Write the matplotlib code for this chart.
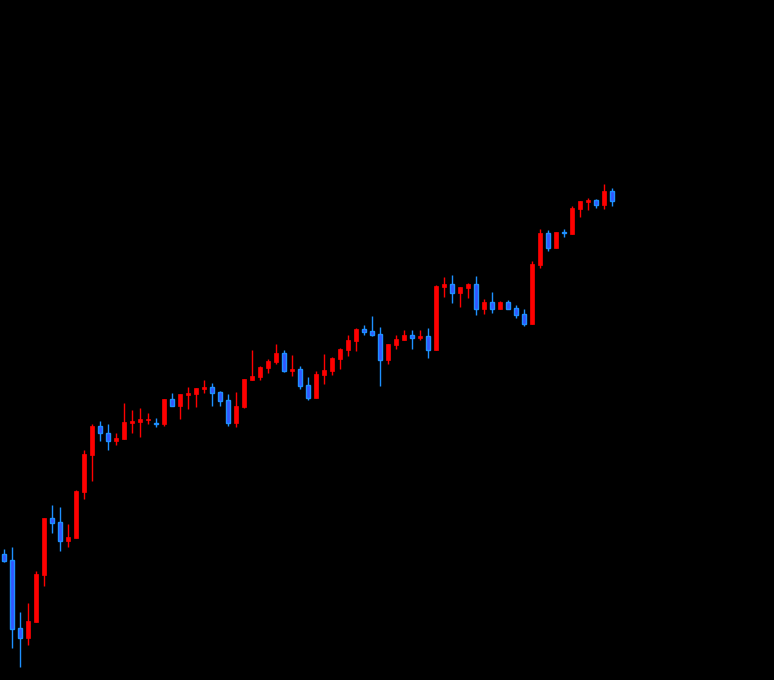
import matplotlib
matplotlib.use("Agg")
import matplotlib.pyplot as plt
import numpy as np

opens = [126, 120, 52, 42, 58, 105, 162, 158, 139, 142, 188, 225, 254, 247, 239, 241, 257, 258, 260, 257,
         256, 281, 274, 285, 286, 291, 293, 288, 280, 257, 273, 300, 303, 312, 318, 327, 309, 311, 295, 282,
         305, 309, 321, 330, 339, 351, 349, 346, 320, 335, 340, 345, 342, 344, 330, 393, 396, 387, 392, 396,
         371, 378, 371, 378, 372, 366, 356, 415, 447, 432, 448, 446, 471, 478, 480, 475, 489]
highs = [131, 133, 68, 77, 109, 162, 175, 173, 156, 190, 230, 256, 259, 256, 247, 277, 270, 272, 267, 262,
         281, 287, 286, 293, 292, 300, 297, 289, 286, 288, 301, 330, 314, 321, 336, 330, 325, 314, 303, 309,
         326, 323, 332, 345, 352, 355, 364, 353, 336, 345, 350, 350, 350, 352, 395, 403, 405, 393, 397, 404,
         381, 388, 379, 380, 375, 371, 419, 451, 450, 448, 451, 474, 479, 482, 481, 496, 492]
lows = [118, 32, 13, 35, 58, 94, 147, 129, 133, 142, 181, 199, 239, 230, 235, 241, 247, 243, 256, 253,
        254, 274, 261, 271, 273, 287, 274, 274, 254, 253, 272, 300, 300, 307, 316, 308, 304, 291, 280, 282,
        296, 305, 311, 324, 329, 345, 344, 294, 316, 331, 340, 331, 340, 322, 330, 383, 377, 373, 382, 365,
        366, 367, 371, 371, 362, 354, 356, 412, 429, 432, 443, 446, 463, 470, 472, 471, 474]
closes = [119, 51, 42, 59, 106, 162, 157, 139, 143, 189, 226, 254, 247, 239, 242, 258, 259, 261, 261, 256.5,
          281, 274, 286, 287, 292, 293, 287, 279, 257, 274, 301, 304, 313, 319, 327, 309, 311, 294, 282, 306,
          310, 322, 331, 340, 351, 348, 345, 320, 336, 341, 345, 342, 344, 330, 394, 396, 387, 393, 396, 371,
          378, 371, 378, 371, 365, 356, 416, 447, 432, 448, 447, 472, 479, 480, 475, 489, 479]

o = np.array(opens, float)
h = np.array(highs, float)
l = np.array(lows, float)
c = np.array(closes, float)
x = np.arange(len(o))
up = c >= o

RED = "#ff0000"
BLUE_EDGE = "#1e90ff"
BLUE_FILL = "#3355ff"

fig = plt.figure(figsize=(7.74, 6.8), dpi=100, facecolor="black")
ax = fig.add_axes([0, 0, 1, 1])
ax.set_facecolor("black")

wick_colors = [RED if u else BLUE_EDGE for u in up]
ax.vlines(x, l, h, colors=wick_colors, linewidth=1.0, zorder=1)

body_h = np.abs(c - o)
body_h = np.maximum(body_h, 0.8)
bottoms = np.minimum(o, c)
w = 0.62
ax.bar(x[up], body_h[up], bottom=bottoms[up], width=w, color=RED, edgecolor=RED,
       linewidth=0.5, zorder=2)
ax.bar(x[~up], body_h[~up], bottom=bottoms[~up], width=w, color=BLUE_FILL,
       edgecolor=BLUE_EDGE, linewidth=1.0, zorder=2)

ax.set_xlim(-0.5, 96.25)
ax.set_ylim(0, 680)
ax.axis("off")

fig.savefig("out.png", dpi=100, facecolor="black")
